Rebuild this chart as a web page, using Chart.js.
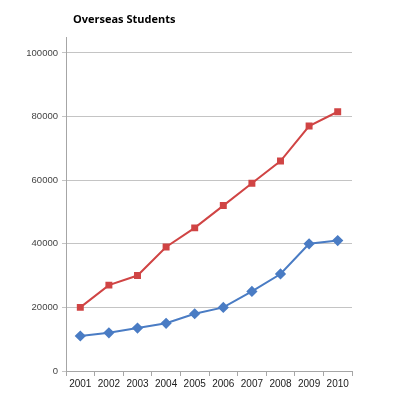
<!DOCTYPE html>
<html>
<head>
<meta charset="utf-8">
<script src="https://cdn.jsdelivr.net/npm/chart.js@4"></script>
<style>
  html, body { margin: 0; padding: 0; background: #fff; }
  #wrap { position: relative; width: 397px; height: 400px; }
  #title {
    position: absolute; left: 73px; top: 11px;
    font: bold 11px "Open Sans", "Liberation Sans", sans-serif; color: #000;
  }
</style>
</head>
<body>
<div id="wrap">
  <canvas id="chart" width="397" height="400"></canvas>
  <div id="title">Overseas Students</div>
</div>
<script>
const years = ["2001", "2002", "2003", "2004", "2005", "2006", "2007", "2008", "2009", "2010"];
const redSeries = [20000, 27000, 30000, 39000, 45000, 52000, 59000, 66000, 77000, 81500];
const blueSeries = [11000, 12000, 13500, 15000, 18000, 20000, 25000, 30500, 40000, 41000];
const yTicks = [0, 20000, 40000, 60000, 80000, 100000];

const ctx = document.getElementById("chart").getContext("2d");

new Chart(ctx, {
  type: "line",
  data: {
    labels: years,
    datasets: [
      {
        data: redSeries,
        borderColor: "#d04444",
        backgroundColor: "#d04444",
        borderWidth: 2,
        pointStyle: "rect",
        pointRadius: 3.5,
        tension: 0
      },
      {
        data: blueSeries,
        borderColor: "#4a7cc4",
        backgroundColor: "#4a7cc4",
        borderWidth: 2,
        pointStyle: "rectRot",
        pointRadius: 4.2,
        tension: 0
      }
    ]
  },
  options: {
    responsive: false,
    animation: false,
    layout: { padding: { top: 37, right: 45, bottom: 8, left: 0 } },
    plugins: {
      legend: { display: false },
      title: { display: false },
      tooltip: { enabled: false }
    },
    scales: {
      x: {
        offset: true,
        grid: { offset: true, drawOnChartArea: false, tickLength: 5, color: "#a6a6a6" },
        border: { color: "#a6a6a6" },
        ticks: { color: "#222", font: { family: "Liberation Sans", size: 10 }, padding: 2, maxRotation: 0 }
      },
      y: {
        min: 0,
        max: 105000,
        afterBuildTicks: axis => { axis.ticks = yTicks.map(v => ({ value: v })); },
        afterFit: axis => { axis.width = 66; },
        grid: { color: "#c4c4c4", tickLength: 4, lineWidth: 1 },
        border: { color: "#a6a6a6" },
        ticks: {
          color: "#444",
          font: { family: "Liberation Sans", size: 9.5 },
          padding: 4,
          callback: v => String(v)
        }
      }
    }
  }
});
</script>
</body>
</html>
